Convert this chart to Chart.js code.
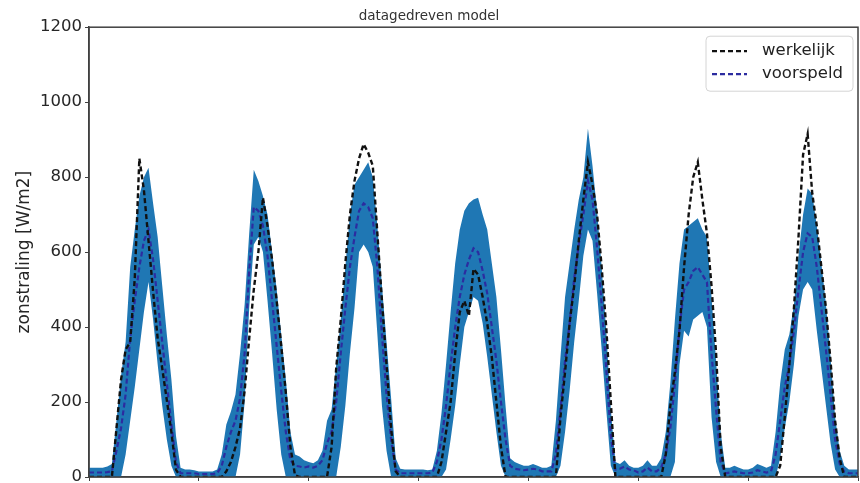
<!DOCTYPE html>
<html>
<head>
<meta charset="utf-8">
<script src="https://cdn.jsdelivr.net/npm/chart.js@4.4.0/dist/chart.umd.min.js"></script>
<style>
  html, body { margin: 0; padding: 0; background: #fff; }
  #wrap { width: 860px; height: 483px; position: relative; }
</style>
</head>
<body>
<div id="wrap"><canvas id="zonChart"></canvas></div>
<script>
// uurwaarden, 7 dagen (0..168 uur)
const actual = [
	0, 0, 0, 0, 0, 0, 130, 260, 340, 360, 530, 850, 765, 630, 495, 370, 290, 205, 120, 20, 0, 0, 0, 0,
	0, 0, 0, 0, 0, 0, 15, 40, 80, 130, 230, 370, 500, 600, 745, 670, 580, 470, 350, 225, 80, 5, 0, 0,
	0, 0, 0, 0, 0, 80, 290, 420, 570, 700, 790, 850, 888, 865, 830, 650, 470, 300, 130, 15, 0, 0, 0, 0,
	0, 0, 0, 0, 0, 40, 120, 200, 330, 440, 470, 430, 555, 540, 480, 410, 320, 200, 80, 0, 0, 0, 0, 0,
	0, 0, 0, 0, 0, 0, 0, 160, 280, 410, 510, 630, 740, 840, 780, 700, 560, 400, 200, 0, 0, 0, 0, 0,
	0, 0, 0, 0, 0, 0, 60, 190, 280, 390, 560, 700, 800, 840, 740, 650, 510, 330, 80, 0, 0, 0, 0, 0,
	0, 0, 0, 0, 0, 0, 0, 30, 160, 300, 450, 640, 860, 915, 757, 670, 560, 450, 310, 150, 50, 0, 0, 0,
	0
];

const predicted = [
	12, 12, 12, 12, 13, 15, 70, 130, 220, 370, 470, 560, 630, 660, 580, 470, 360, 250, 140, 40, 10, 10, 10, 10,
	8, 8, 8, 8, 10, 30, 80, 120, 150, 210, 330, 550, 720, 710, 670, 590, 470, 350, 230, 120, 45, 30, 28, 25,
	28, 25, 30, 45, 90, 120, 200, 330, 450, 560, 640, 710, 730, 720, 690, 560, 380, 220, 100, 20, 10, 10, 10, 10,
	10, 10, 10, 12, 40, 100, 190, 300, 400, 480, 540, 580, 610, 600, 550, 490, 400, 310, 200, 100, 30, 22, 20, 18,
	20, 22, 20, 15, 15, 15, 60, 180, 310, 410, 530, 620, 700, 790, 740, 610, 460, 290, 110, 20, 22, 28, 20, 18,
	12, 15, 25, 15, 15, 25, 60, 130, 250, 400, 500, 520, 550, 560, 540, 520, 330, 180, 40, 10, 12, 15, 12, 10,
	10, 12, 18, 15, 12, 15, 60, 150, 240, 300, 390, 500, 600, 650, 640, 560, 450, 340, 220, 100, 35, 15, 10, 10,
	10
];

const lower = [
	0, 0, 0, 0, 0, 0, 0, 0, 60, 150, 240, 340, 440, 520, 420, 300, 190, 100, 30, 0, 0, 0, 0, 0,
	0, 0, 0, 0, 0, 0, 0, 0, 0, 60, 200, 450, 620, 640, 600, 470, 330, 180, 60, 0, 0, 0, 0, 0,
	0, 0, 0, 0, 0, 0, 0, 80, 190, 330, 450, 600, 620, 600, 560, 380, 190, 70, 0, 0, 0, 0, 0, 0,
	0, 0, 0, 0, 0, 0, 20, 100, 190, 300, 400, 440, 480, 470, 410, 320, 220, 120, 30, 0, 0, 0, 0, 0,
	0, 0, 0, 0, 0, 0, 0, 30, 120, 230, 360, 470, 590, 660, 630, 490, 340, 180, 30, 0, 0, 0, 0, 0,
	0, 0, 0, 0, 0, 0, 0, 0, 40, 300, 390, 375, 420, 430, 440, 400, 160, 40, 0, 0, 0, 0, 0, 0,
	0, 0, 0, 0, 0, 0, 0, 50, 130, 200, 300, 430, 500, 520, 500, 390, 290, 190, 90, 20, 0, 0, 0, 0,
	0
];

const upper = [
	25, 25, 25, 25, 28, 35, 150, 270, 360, 560, 660, 750, 800, 825, 730, 640, 510, 380, 260, 110, 25, 20, 20, 18,
	15, 15, 15, 15, 20, 60, 140, 175, 220, 330, 460, 650, 820, 790, 750, 700, 600, 500, 380, 260, 120, 60, 55, 45,
	40, 37, 45, 70, 150, 180, 300, 420, 560, 700, 780, 800, 820, 840, 800, 670, 510, 360, 210, 50, 22, 20, 20, 20,
	20, 20, 18, 20, 70, 170, 300, 440, 570, 660, 710, 730, 740, 745, 700, 660, 570, 480, 340, 190, 50, 40, 35, 30,
	30, 35, 30, 25, 25, 30, 150, 320, 480, 570, 660, 740, 800, 930, 830, 710, 560, 390, 180, 40, 35, 45, 30, 25,
	25, 30, 45, 30, 30, 50, 120, 250, 420, 570, 660, 670, 680, 690, 660, 640, 480, 310, 120, 25, 25, 30, 25, 20,
	20, 25, 35, 30, 25, 30, 120, 250, 340, 380, 460, 590, 700, 770, 755, 670, 570, 460, 320, 160, 70, 30, 20, 20,
	20
];

const yTicks = [0, 200, 400, 600, 800, 1000, 1200];
const legendLabels = ["werkelijk", "voorspeld"];

const FONT = "DejaVu Sans";
const AXIS_COLOR = "#404040";
const BAND_COLOR = "#1f77b4";
const PRED_COLOR = "#2c2ca0";
const ACTUAL_COLOR = "#111111";

function toPoints(values) {
	return values.map((v, i) => ({ x: i, y: v }));
}

// kader rondom + legenda rechtsboven
const frameAndLegend = {
	id: "frameAndLegend",
	afterDraw(chart) {
		const { ctx, chartArea: a } = chart;
		ctx.save();
		ctx.strokeStyle = AXIS_COLOR;
		ctx.lineWidth = 1.5;
		ctx.strokeRect(a.left, a.top, a.right - a.left, a.bottom - a.top);

		const bw = 147;
		const bh = 55;
		const bx = a.right - bw - 5;
		const by = a.top + 9;
		ctx.beginPath();
		ctx.roundRect(bx, by, bw, bh, 4);
		ctx.fillStyle = "rgba(255,255,255,0.85)";
		ctx.fill();
		ctx.strokeStyle = "#d4d4d4";
		ctx.lineWidth = 1;
		ctx.stroke();

		const colors = [ACTUAL_COLOR, PRED_COLOR];
		legendLabels.forEach((label, i) => {
			const y = by + 15 + i * 23;
			ctx.beginPath();
			ctx.setLineDash([5, 3]);
			ctx.strokeStyle = colors[i];
			ctx.lineWidth = 2.2;
			ctx.moveTo(bx + 6, y);
			ctx.lineTo(bx + 41, y);
			ctx.stroke();
			ctx.setLineDash([]);
			ctx.fillStyle = "#222";
			ctx.font = "16.5px '" + FONT + "'";
			ctx.textBaseline = "middle";
			ctx.fillText(label, bx + 56, y);
		});
		ctx.restore();
	}
};

const ctx = document.getElementById("zonChart").getContext("2d");
new Chart(ctx, {
	type: "line",
	data: {
		datasets: [
			{
				label: "onder",
				data: toPoints(lower),
				borderWidth: 0,
				pointRadius: 0,
				fill: false,
				order: 3
			},
			{
				label: "boven",
				data: toPoints(upper),
				borderWidth: 0,
				pointRadius: 0,
				backgroundColor: BAND_COLOR,
				fill: "-1",
				order: 2
			},
			{
				label: legendLabels[1],
				data: toPoints(predicted),
				borderColor: PRED_COLOR,
				borderWidth: 2.2,
				borderDash: [5, 3],
				pointRadius: 0,
				fill: false,
				order: 1
			},
			{
				label: legendLabels[0],
				data: toPoints(actual),
				borderColor: ACTUAL_COLOR,
				borderWidth: 2.4,
				borderDash: [5, 3],
				pointRadius: 0,
				fill: false,
				order: 0
			}
		]
	},
	options: {
		responsive: true,
		maintainAspectRatio: false,
		animation: false,
		layout: { padding: { left: 0, right: 2, top: 0, bottom: 0 } },
		elements: { line: { tension: 0 } },
		plugins: {
			legend: { display: false },
			tooltip: { enabled: false },
			title: {
				display: true,
				text: "datagedreven model",
				color: "#333",
				font: { family: FONT, size: 13.5, weight: "normal" },
				padding: { top: 8, bottom: 3 }
			}
		},
		scales: {
			x: {
				type: "linear",
				min: 0,
				max: 168,
				ticks: { display: false, stepSize: 24 },
				grid: { drawOnChartArea: false, drawTicks: true, tickLength: 4, color: AXIS_COLOR },
				border: { display: true, color: AXIS_COLOR, width: 1.5 },
				afterFit(scale) {
					scale.height = 6;
					scale.paddingLeft = 0;
					scale.paddingRight = 0;
				}
			},
			y: {
				min: yTicks[0],
				max: yTicks[yTicks.length - 1],
				afterBuildTicks(scale) {
					scale.ticks = yTicks.map((v) => ({ value: v }));
				},
				ticks: {
					color: "#262626",
					padding: 3,
					font: { family: FONT, size: 16.5 },
					callback: (v) => String(v)
				},
				grid: { drawOnChartArea: false, drawTicks: true, tickLength: 4, color: AXIS_COLOR },
				border: { display: true, color: AXIS_COLOR, width: 1.5 },
				title: {
					display: true,
					text: "zonstraling [W/m2]",
					color: "#262626",
					font: { family: FONT, size: 17 },
					padding: { top: 14, bottom: 0 }
				},
				afterFit(scale) {
					scale.width = 89;
					scale.paddingTop = 0;
					scale.paddingBottom = 0;
				}
			}
		}
	},
	plugins: [frameAndLegend]
});
</script>
</body>
</html>
